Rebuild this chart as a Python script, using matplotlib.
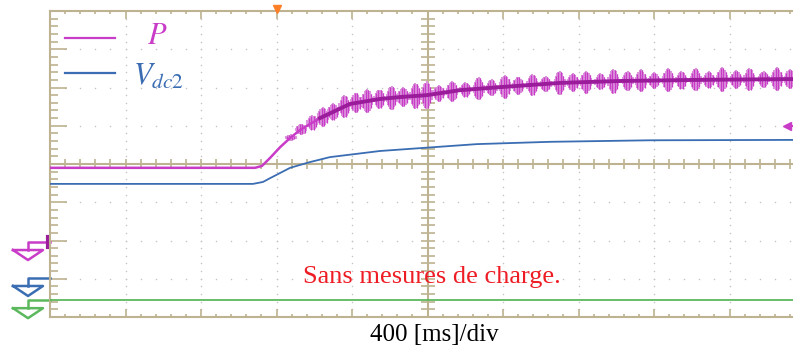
import numpy as np
import matplotlib.pyplot as plt

plt.rcParams['mathtext.fontset'] = 'stix'

# scope screen: 400 ms per division horizontally, values in divisions vertically
ms_per_div = 400

# P trace (mean line), time in ms, level in divisions
p_t = [0, 1086, 1123, 1166, 1219, 1272, 1325, 1430, 1589, 1748, 1854, 1997,
       2172, 2384, 2702, 3020, 3444, 3936]
p_y = [-0.10, -0.10, -0.05, 0.16, 0.44, 0.68, 0.89, 1.20, 1.57, 1.70, 1.75, 1.80,
       1.93, 2.01, 2.12, 2.17, 2.20, 2.22]

# ripple bursts on P: burst time (ms) and half amplitude (div)
burst_t = [1275, 1330, 1390, 1445, 1500, 1560, 1620, 1680, 1745, 1810, 1870, 1935,
           1995, 2060, 2130, 2200, 2270, 2340, 2410, 2480, 2555, 2625, 2700, 2770,
           2840, 2915, 2985, 3060, 3130, 3200, 3275, 3345, 3420, 3490, 3560, 3635,
           3705, 3780, 3850, 3920]
burst_amp = [0.08, 0.14, 0.20, 0.26, 0.22, 0.30, 0.27, 0.32, 0.25, 0.31, 0.26, 0.33,
             0.36, 0.22, 0.28, 0.20, 0.30, 0.22, 0.32, 0.24, 0.28, 0.20, 0.31, 0.25,
             0.30, 0.22, 0.33, 0.26, 0.30, 0.21, 0.31, 0.24, 0.30, 0.22, 0.32, 0.25,
             0.30, 0.22, 0.31, 0.26]

# Vdc2 trace
vdc_t = [0, 1075, 1128, 1166, 1272, 1377, 1483, 1748, 1976, 2262, 2649, 3179, 3936]
vdc_y = [-0.52, -0.52, -0.47, -0.37, -0.10, 0.05, 0.18, 0.34, 0.42, 0.52, 0.58, 0.62, 0.63]

# third channel (flat green trace) and channel ground markers
green_level = -3.56
gnd_levels = [-2.04, -2.98, -3.56]

trigger_time = 1203
trigger_level = 0.99

magenta = '#c83cc8'
magenta_dark = '#9a1c9a'
magenta_light = '#dc94dc'
blue = '#3b6db3'
green = '#5cb85c'
tan = '#bdb391'
dotc = '#c4c4c4'

fig = plt.figure(figsize=(7.93, 3.49), dpi=100)
W, H = 793, 349
x_end = 3936
ax = fig.add_axes([50 / W, (H - 317) / H, 743 / W, 306 / H])
ax.set_xlim(0, x_end)
ax.set_ylim(-4, 4)

# border ticks
ax.set_xticks(np.arange(0, x_end, ms_per_div))
ax.set_xticks(np.arange(0, x_end, ms_per_div / 5), minor=True)
ax.set_yticks(np.arange(-4, 4.01, 1))
ax.set_yticks(np.arange(-4, 4.01, 0.2), minor=True)
ax.tick_params(axis='x', which='major', direction='in', length=6, width=1.2,
               top=True, bottom=True, color=tan, labelbottom=False)
ax.tick_params(axis='x', which='minor', direction='in', length=2.5, width=1.2,
               top=True, bottom=True, color=tan)
ax.tick_params(axis='y', which='major', direction='in', length=12, width=1.2,
               left=True, right=False, color=tan, labelleft=False)
ax.tick_params(axis='y', which='minor', direction='in', length=6, width=1.2,
               left=True, right=False, color=tan)
for side in ['left', 'top', 'bottom']:
    ax.spines[side].set_color(tan)
    ax.spines[side].set_linewidth(1.5)
ax.spines['right'].set_visible(False)

# dotted graticule
ys_dots = np.arange(-4, 4.01, 0.2)
xs_dots = np.arange(0, x_end, ms_per_div / 5)
for k in range(1, 10):
    if k == 5:
        continue
    ax.scatter(np.full(len(ys_dots), k * ms_per_div), ys_dots, s=1.2, color=dotc,
               lw=0, zorder=1)
for k in [-3, -2, -1, 1, 2, 3]:
    ax.scatter(xs_dots, np.full(len(xs_dots), k), s=1.2, color=dotc, lw=0, zorder=1)

# centre cross with ticks
xc = 5 * ms_per_div
ax.axvline(xc, color=tan, lw=1.5, zorder=1)
ax.axhline(0, color=tan, lw=1.5, zorder=1)
ax.hlines(ys_dots, xc - 37, xc + 37, color=tan, lw=1.2, zorder=1)
ax.vlines(xs_dots, -0.13, 0.13, color=tan, lw=1.2, zorder=1)

# traces
ax.axhline(green_level, color=green, lw=1.3, zorder=3)
ax.plot(vdc_t, vdc_y, color=blue, lw=1.3, zorder=3)

ms_px = ms_per_div / 75.5
div_px = 1 / 38.25
offs = np.array([-5, -3.75, -2.5, -1.25, 0, 1.25, 2.5, 3.75, 5]) * ms_px
fracs = np.array([0.35, 0.6, 0.8, 0.92, 1.0, 0.92, 0.8, 0.6, 0.35])
for t, a in zip(burst_t, burst_amp):
    c = np.interp(t, p_t, p_y)
    ax.vlines(t + offs, c - a * fracs, c + a * fracs, color=magenta_light, lw=1.5, zorder=3)
    ax.vlines(t + offs[1::2], c - a * fracs[1::2], c + a * fracs[1::2], color=magenta,
              lw=0.9, zorder=3)
ax.plot(p_t, p_y, color=magenta, lw=1.8, zorder=4)
rise = [i for i, t in enumerate(p_t) if t >= 1430]
ax.plot([p_t[i] for i in rise], [p_y[i] for i in rise], color=magenta_dark, lw=2.8, zorder=4)

# ground markers on the left
for lvl, col in zip(gnd_levels, [magenta, blue, green]):
    xa, xb = 0, -22 * ms_px
    top = lvl - 8 * div_px
    ax.plot([xa, xb, xb], [lvl, lvl, top], color=col, lw=1.8, clip_on=False)
    ax.plot([xb - 15 * ms_px, xb + 15 * ms_px, xb, xb - 15 * ms_px],
            [top, top, top - 10 * div_px, top], color=col, lw=1.8, clip_on=False)
ax.plot([-1.5 * ms_px, -1.5 * ms_px], [gnd_levels[0] - 0.12, gnd_levels[0] + 0.12],
        color=magenta_dark, lw=3, clip_on=False)

# trigger markers
ax.plot([trigger_time], [4.05], marker='v', ms=6, color='#ff7f27', clip_on=False, zorder=6)
ax.plot([x_end - 6 * ms_px], [trigger_level], marker='<', ms=6, color=magenta,
        clip_on=False, zorder=6)
ax.plot([x_end - 6 * ms_px, x_end], [trigger_level, trigger_level], color=magenta, lw=1.5,
        clip_on=False, zorder=6)

# legend
ax.plot([79, 344], [3.29, 3.29], color=magenta, lw=1.6, zorder=5)
ax.plot([79, 344], [2.38, 2.38], color=blue, lw=1.6, zorder=5)
ax.text(515, 3.36, r'$P$', color=magenta, fontsize=22, ha='left', va='center')
ax.text(440, 2.30, r'$V_{dc2}$', color=blue, fontsize=22, ha='left', va='center')

ax.text(2024, -2.95, 'Sans mesures de charge.', color='#ee1c24', fontsize=19,
        family='Liberation Serif', ha='center', va='center')
fig.text(434 / W, 1 - 335 / H, '400 [ms]/div', color='black', fontsize=18,
         family='Liberation Serif', ha='center', va='center')

fig.savefig('out.png', dpi=100)
